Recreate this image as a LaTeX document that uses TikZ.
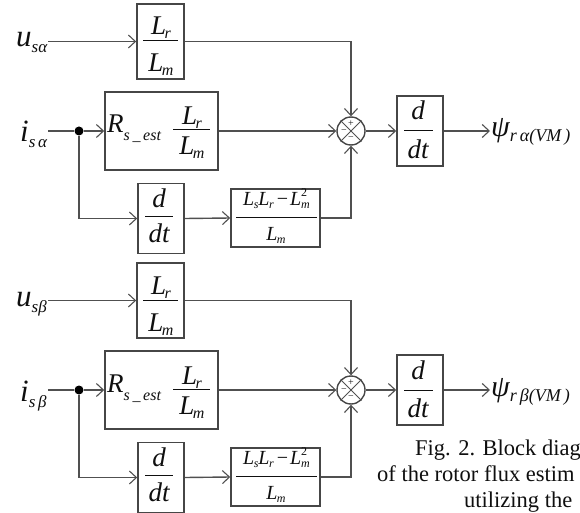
\documentclass[tikz,border=0pt]{standalone}
\usepackage{fontspec}
\setmainfont{Liberation Serif}
\usetikzlibrary{arrows.meta}
\definecolor{lc}{RGB}{80,80,80}
\definecolor{bc}{RGB}{70,70,70}
\definecolor{tc}{RGB}{15,15,15}
\newcommand\fs[1]{\fontsize{#1}{#1}\selectfont}
\newcommand\BL[1]{{\fs{27}\itshape L}\kern-1.5pt\raisebox{-4pt}{\fs{16}\itshape #1}}
\newcommand\SL[1]{{\fs{20}\itshape L}\kern-0.5pt\raisebox{-3pt}{\fs{12}\itshape #1}}
\newcommand\DD[1]{{\fs{27}\itshape #1}}
\tikzset{
  line/.style={draw=lc, line width=1.4pt},
  arr/.style={line, -{Straight Barb[length=7pt,width=13pt,line width=1.1pt]}},
  blk/.style={draw=bc, line width=1.6pt, inner sep=0pt},
  fbar/.style={draw=tc, line width=1pt},
  txt/.style={inner sep=0pt, text=tc, anchor=base},
  lab/.style={inner sep=1pt, text=tc},
  sgn/.style={inner sep=0pt, text=tc, font=\fs{10}},
  captxt/.style={inner sep=0pt, text=tc, font=\fs{22.5}},
}
\begin{document}
\begin{tikzpicture}[x=1pt,y=-1pt]
\useasboundingbox (0,0) rectangle (580,513);
\foreach \oy/\g/\n in {0/α/a, 259/β/b}{
  % ---- block 1: Lr/Lm
  \node[blk, minimum width=47pt, minimum height=75pt] (box1\n) at (160.5,{41.5+\oy}) {};
  \node[txt] (n1\n) at (161,{35+\oy}) {\BL{r}};
  \draw[fbar] (143,{41+\oy}) -- (178,{41+\oy});
  \node[txt] (d1\n) at (161,{72+\oy}) {\BL{m}};
  % ---- block 2: Rs_est Lr/Lm
  \node[blk, minimum width=113pt, minimum height=78pt] (box2\n) at (161.5,{131+\oy}) {};
  \node[txt, anchor=base west] (r2\n) at (107,{133+\oy})
    {{\fs{27}\itshape R}\raisebox{-8pt}{\fs{16}\itshape s\,\_\,est}};
  \node[txt] (n2\n) at (192,{125+\oy}) {\BL{r}};
  \draw[fbar] (173,{130+\oy}) -- (210,{130+\oy});
  \node[txt] (d2\n) at (192,{155+\oy}) {\BL{m}};
  % ---- block 3: d/dt
  \node[blk, minimum width=46pt, minimum height=70pt] (box3\n) at (161,{218.5+\oy}) {};
  \node[txt] (n3\n) at (159,{207+\oy}) {\DD{d}};
  \draw[fbar] (145,{216+\oy}) -- (173,{216+\oy});
  \node[txt] (d3\n) at (159,{242+\oy}) {\DD{dt}};
  % ---- block 4: (LsLr - Lm^2)/Lm
  \node[blk, minimum width=89pt, minimum height=58pt] (box4\n) at (275.5,{218+\oy}) {};
  \node[txt] (n4\n) at (276.5,{205+\oy})
    {\SL{s}\SL{r}\hspace{3pt}{\fs{20}−}\hspace{2pt}{\fs{20}\itshape L}\rlap{\raisebox{9pt}{\fs{12}2}}\raisebox{-3pt}{\fs{12}\itshape m}};
  \draw[fbar] (236,{217+\oy}) -- (317,{217+\oy});
  \node[txt] (d4\n) at (276,{240+\oy}) {\SL{m}};
  % ---- block 5: d/dt
  \node[blk, minimum width=46pt, minimum height=70pt] (box5\n) at (420,{131+\oy}) {};
  \node[txt] (n5\n) at (418,{120+\oy}) {\DD{d}};
  \draw[fbar] (404,{131+\oy}) -- (433,{131+\oy});
  \node[txt] (d5\n) at (418,{158+\oy}) {\DD{dt}};
  % ---- summing junction
  \node[circle, draw=bc, line width=1.4pt, minimum size=28pt, inner sep=0pt] (sum\n) at (351,{131+\oy}) {};
  \draw[line, line width=1pt] (sum\n.45) -- (sum\n.225) (sum\n.135) -- (sum\n.-45);
  \node[sgn] (sp\n) at (351,{124+\oy}) {+};
  \node[sgn] (sl\n) at (344,{131.5+\oy}) {−};
  \node[sgn] (sb\n) at (351,{138.5+\oy}) {−};
  % ---- junction dot
  \node[circle, fill=black, minimum size=9pt, inner sep=0pt] (dot\n) at (79,{131+\oy}) {};
  % ---- labels
  \node[lab, anchor=base west] (u\n) at (15,{47+\oy})
    {{\fs{31}\itshape u}\raisebox{-6pt}{\fs{17}\itshape s\g}};
  \node[lab, anchor=base west] (i\n) at (19,{142+\oy})
    {{\fs{31}\itshape i}\raisebox{-6pt}{\fs{17}\itshape s\,\g}};
  \node[lab, anchor=base west] (psi\n) at (490,{137+\oy})
    {{\fs{30}\itshape ψ}\raisebox{-5pt}{\fs{18}\itshape r\,\g(VM\,)}};
  % ---- connectors
  \draw[arr] (u\n.east |- box1\n.west) -- (box1\n.west);
  \draw[line] (i\n.east |- dot\n) -- (dot\n);
  \draw[arr] (dot\n) -- (box2\n.west);
  \draw[arr] (dot\n) |- (box3\n.west);
  \draw[arr] (box3\n.east) -- (box4\n.west);
  \draw[arr] (box1\n.east) -| (sum\n.north);
  \draw[arr] (box2\n.east) -- (sum\n.west);
  \draw[arr] (box4\n.east) -| (sum\n.south);
  \draw[arr] (sum\n.east) -- (box5\n.west);
  \draw[arr] (box5\n.east) -- (psi\n.west |- box5\n.east);
}
% caption (cut by the right edge)
\node[captxt, anchor=base west] (c1) at (415,455) {Fig. 2. Block diag};
\node[captxt, anchor=base west] (c2) at (377,481) {of the rotor flux estim};
\node[captxt, anchor=base west] (c3) at (464,507) {utilizing the};
\end{tikzpicture}
\end{document}
